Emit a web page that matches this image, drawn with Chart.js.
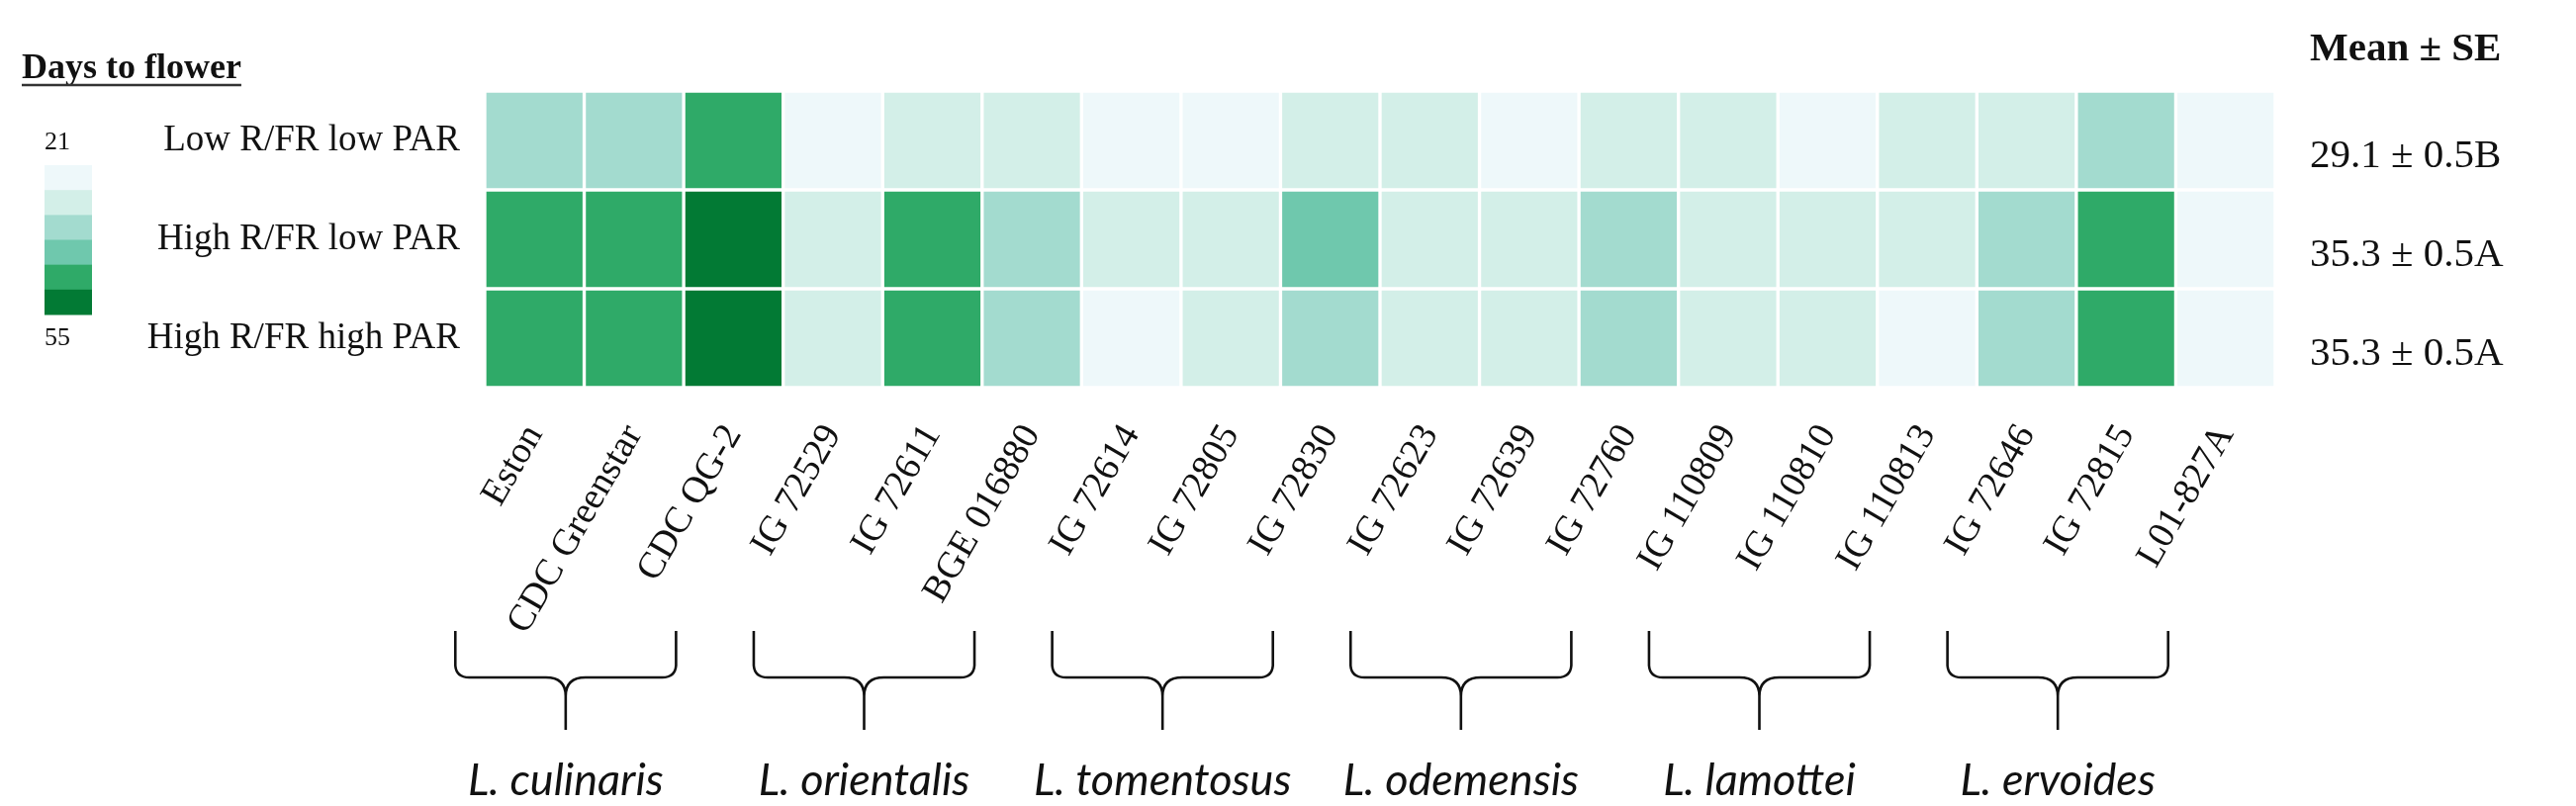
<!DOCTYPE html>
<html lang="en">
<head>
<meta charset="UTF-8">
<title>Days to flower</title>
<script src="https://cdn.jsdelivr.net/npm/chart.js"></script>
<style>
  html, body { margin: 0; padding: 0; background: #fff; }
  .chart-container { width: 2604px; height: 815px; }
</style>
</head>
<body>
<div class="chart-container"><canvas id="heatmap" width="2604" height="815"></canvas></div>
<script>
// accessions along the x axis
const accessions = ['Eston', 'CDC Greenstar', 'CDC QG-2', 'IG 72529', 'IG 72611', 'BGE 016880',
  'IG 72614', 'IG 72805', 'IG 72830', 'IG 72623', 'IG 72639', 'IG 72760',
  'IG 110809', 'IG 110810', 'IG 110813', 'IG 72646', 'IG 72815', 'L01-827A'];
const treatments = ['Low R/FR low PAR', 'High R/FR low PAR', 'High R/FR high PAR'];

// days to flower
const lowRlowPar   = [34, 33.5, 45, 24, 28.5, 28, 24.5, 24, 29, 29.5, 24, 29, 29, 25, 28.5, 28, 34.5, 24];
const highRlowPar  = [46, 46, 52, 29, 46, 34, 29, 29.5, 40, 29, 29.5, 34, 29, 29, 29, 34, 46, 24.5];
const highRhighPar = [47, 47, 54, 29.5, 47, 35.5, 25, 29.5, 35.5, 29.5, 29.5, 35.5, 29, 29.5, 25.5, 35.5, 47, 24.5];

const meanSE = ['29.1 ± 0.5B', '35.3 ± 0.5A', '35.3 ± 0.5A'];

const species = ['L. culinaris', 'L. orientalis', 'L. tomentosus', 'L. odemensis', 'L. lamottei', 'L. ervoides'];
const speciesFirst = [0, 3, 6, 9, 12, 15];
const speciesLast  = [2, 5, 8, 11, 14, 17];

const scaleMin = 21;
const scaleMax = 55;
const binColors = ['#eef8fa', '#d3efe8', '#a3dbcf', '#6fc8ad', '#2faa68', '#027a34'];

const serif = '"Liberation Serif", "Times New Roman", serif';

function binColor(v) {
  const n = binColors.length;
  let k = Math.floor((v - scaleMin) / (scaleMax - scaleMin) * n);
  k = Math.max(0, Math.min(n - 1, k));
  return binColors[k];
}

const rows = [lowRlowPar, highRlowPar, highRhighPar];

const extras = {
  id: 'extras',
  afterDraw(chart) {
    const { ctx, chartArea, scales: { x, y } } = chart;
    ctx.save();

    // legend title
    ctx.fillStyle = '#111';
    ctx.font = 'bold 36px ' + serif;
    ctx.textAlign = 'left';
    ctx.textBaseline = 'alphabetic';
    ctx.fillText('Days to flower', 22, 79);
    const tw = ctx.measureText('Days to flower').width;
    ctx.strokeStyle = '#333';
    ctx.lineWidth = 2.5;
    ctx.beginPath();
    ctx.moveTo(22, 86);
    ctx.lineTo(22 + tw, 86);
    ctx.stroke();

    // colour bar
    const bx = 45, bw = 48, by = 167, bh = 151;
    const step = bh / binColors.length;
    binColors.forEach((c, i) => {
      ctx.fillStyle = c;
      ctx.fillRect(bx, by + i * step, bw, step + 0.5);
    });
    ctx.fillStyle = '#111';
    ctx.font = '26px ' + serif;
    ctx.textBaseline = 'middle';
    ctx.fillText(String(scaleMin), bx, 144);
    ctx.fillText(String(scaleMax), bx, 342);

    // mean ± SE column
    const mx = chartArea.right + 35;
    ctx.font = 'bold 41px ' + serif;
    ctx.fillText('Mean ± SE', mx, 50);
    ctx.font = '41px ' + serif;
    meanSE.forEach((t, r) => {
      ctx.fillText(t, mx, y.getPixelForValue(r + 0.5) + 16);
    });

    // species brackets
    const b = chartArea.bottom;
    const top = b + 246, h = b + 293, tip = b + 312, end = b + 346;
    ctx.strokeStyle = '#111';
    ctx.lineWidth = 2.6;
    ctx.font = 'italic 45px Lato, "Open Sans", sans-serif';
    ctx.textAlign = 'center';
    species.forEach((name, g) => {
      const L = x.getPixelForValue(speciesFirst[g]) - 80;
      const R = x.getPixelForValue(speciesLast[g]) - 58;
      const c = (L + R) / 2;
      ctx.beginPath();
      ctx.moveTo(L, top);
      ctx.lineTo(L, h - 12);
      ctx.quadraticCurveTo(L + 1, h, L + 14, h);
      ctx.lineTo(c - 20, h);
      ctx.quadraticCurveTo(c, h, c, tip);
      ctx.lineTo(c, end);
      ctx.moveTo(R, top);
      ctx.lineTo(R, h - 12);
      ctx.quadraticCurveTo(R - 1, h, R - 14, h);
      ctx.lineTo(c + 20, h);
      ctx.quadraticCurveTo(c, h, c, tip);
      ctx.stroke();
      ctx.fillStyle = '#111';
      ctx.fillText(name, c, b + 397);
    });

    ctx.restore();
  }
};

const ctx = document.getElementById('heatmap').getContext('2d');
const chart = new Chart(ctx, {
  type: 'bar',
  data: {
    labels: accessions,
    datasets: rows.map((vals, r) => ({
      label: treatments[r],
      data: vals.map((v, i) => ({ x: accessions[i], y: [r, r + 1], days: v })),
      backgroundColor: c => (c.raw ? binColor(c.raw.days) : '#fff'),
      borderColor: '#fff',
      borderWidth: 2,
      borderSkipped: false,
      categoryPercentage: 1,
      barPercentage: 1,
      grouped: false
    }))
  },
  options: {
    responsive: false,
    animation: false,
    layout: { padding: { left: 0, right: 304, top: 92, bottom: 0 } },
    plugins: {
      legend: { display: false },
      tooltip: { enabled: false }
    },
    scales: {
      x: {
        type: 'category',
        grid: { display: false, drawTicks: false },
        border: { display: false },
        ticks: {
          autoSkip: false,
          minRotation: 60,
          maxRotation: 60,
          padding: 30,
          color: '#111',
          font: { family: serif, size: 38 }
        },
        afterFit: scale => { scale.height = 423; }
      },
      y: {
        type: 'linear',
        min: 0,
        max: 3,
        reverse: true,
        grid: { display: false, drawTicks: false },
        border: { display: false },
        afterBuildTicks: scale => {
          scale.ticks = treatments.map((t, i) => ({ value: i + 0.5 }));
        },
        ticks: {
          padding: 25,
          color: '#111',
          font: { family: serif, size: 37 },
          callback: (value, index) => treatments[index]
        },
        afterFit: scale => { scale.width = 490; }
      }
    }
  },
  plugins: [extras]
});
</script>
</body>
</html>
